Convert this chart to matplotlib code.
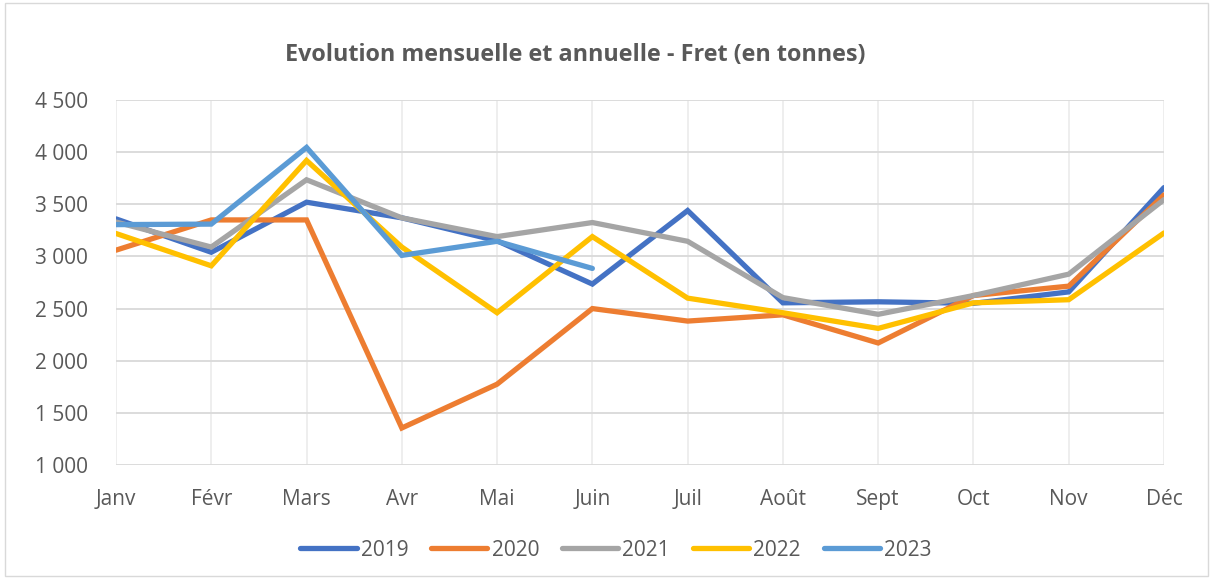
import matplotlib.pyplot as plt

# -----------------------------
# Data (tonnes per month)
# -----------------------------
months = ["Janv", "Févr", "Mars", "Avr", "Mai", "Juin",
          "Juil", "Août", "Sept", "Oct", "Nov", "Déc"]

fret_2019 = [3360, 3040, 3520, 3370, 3150, 2735, 3440, 2555, 2565, 2550, 2660, 3660]
fret_2020 = [3060, 3350, 3350, 1355, 1775, 2500, 2380, 2440, 2170, 2625, 2715, 3590]
fret_2021 = [3330, 3090, 3735, 3370, 3190, 3325, 3145, 2605, 2445, 2625, 2830, 3545]
fret_2022 = [3220, 2910, 3920, 3090, 2460, 3190, 2600, 2460, 2310, 2555, 2585, 3225]
fret_2023 = [3305, 3310, 4045, 3010, 3145, 2885]

years = ["2019", "2020", "2021", "2022", "2023"]
colors = ["#4472C4", "#ED7D31", "#A5A5A5", "#FFC000", "#5B9BD5"]
series = [fret_2019, fret_2020, fret_2021, fret_2022, fret_2023]

y_ticks = [1000, 1500, 2000, 2500, 3000, 3500, 4000, 4500]
y_labels = ["1 000", "1 500", "2 000", "2 500", "3 000", "3 500", "4 000", "4 500"]

# -----------------------------
# Plot
# -----------------------------
plt.rcParams['font.family'] = ['Open Sans', 'DejaVu Sans']
text_color = "#595959"

fig = plt.figure(figsize=(12.13, 5.78), dpi=100)
ax = fig.add_axes([116 / 1213, 1 - 465 / 578, (1164 - 116) / 1213, (465 - 100) / 578])

for name, vals, col in zip(years, series, colors):
    ax.plot(range(len(vals)), vals, color=col, lw=3.8, label=name,
            solid_joinstyle='miter', solid_capstyle='round', zorder=3)

ax.set_xlim(0, len(months) - 1)
ax.set_ylim(1000, 4500)
ax.set_xticks(range(len(months)))
ax.set_xticklabels(months)
ax.set_yticks(y_ticks)
ax.set_yticklabels(y_labels)
ax.tick_params(length=0, labelsize=15, colors=text_color)
ax.tick_params(axis='x', pad=17)
ax.tick_params(axis='y', pad=20)

ax.grid(axis='y', color="#D9D9D9", lw=1.3)
ax.grid(axis='x', color="#EDEDED", lw=1.3)
ax.set_axisbelow(True)
for s in ax.spines.values():
    s.set_visible(False)

fig.text(575 / 1213, 1 - 55 / 578, "Evolution mensuelle et annuelle - Fret (en tonnes)",
         ha='center', va='center', fontsize=16.8, fontweight='bold', color=text_color)

leg = fig.legend(loc='center', bbox_to_anchor=(616 / 1213, 1 - 550 / 578), ncol=5,
                 frameon=False, fontsize=15, handlelength=2.7, columnspacing=1.1,
                 handletextpad=0.2)
for t in leg.get_texts():
    t.set_color(text_color)

# outer border like the spreadsheet chart area
border = plt.Rectangle((0.004, 0.004), 0.992, 0.99, transform=fig.transFigure,
                       fill=False, edgecolor="#D9D9D9", lw=1)
fig.patches.append(border)

fig.savefig("out.png", dpi=100)
plt.close()
